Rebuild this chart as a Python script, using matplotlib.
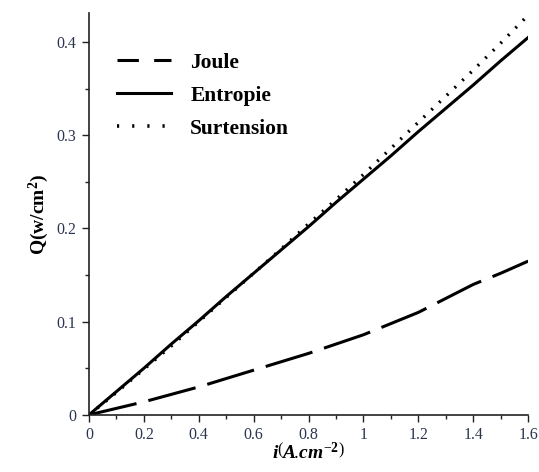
import numpy as np
import matplotlib
matplotlib.use("Agg")
import matplotlib.pyplot as plt
from matplotlib.lines import Line2D
from matplotlib.ticker import MultipleLocator, FormatStrFormatter

# ---------------------------------------------------------------------------
# Data
# ---------------------------------------------------------------------------

current    = [0.0, 0.1, 0.2, 0.3, 0.4, 0.5, 0.6, 0.7, 0.8, 0.9, 1.0, 1.1, 1.2, 1.3, 1.4, 1.5, 1.6]
joule      = [0.0, 0.007, 0.014, 0.022, 0.030, 0.039, 0.048, 0.057, 0.066, 0.076, 0.086,
              0.098, 0.110, 0.125, 0.140, 0.152, 0.165]
entropie   = [0.0, 0.025, 0.050, 0.076, 0.101, 0.127, 0.152, 0.177, 0.202, 0.228, 0.253,
              0.278, 0.304, 0.329, 0.354, 0.380, 0.405]
surtension = [0.0, 0.024, 0.049, 0.074, 0.100, 0.126, 0.152, 0.178, 0.205, 0.231, 0.258,
              0.286, 0.314, 0.342, 0.370, 0.399, 0.429]

x_ticks = [0, 0.2, 0.4, 0.6, 0.8, 1.0, 1.2, 1.4, 1.6]
y_ticks = [0, 0.1, 0.2, 0.3, 0.4]
labels  = ["Joule", "Entropie", "Surtension"]

# ---------------------------------------------------------------------------
# Plot
# ---------------------------------------------------------------------------

plt.rcParams["font.family"] = ["Liberation Serif", "DejaVu Serif"]
plt.rcParams["mathtext.fontset"] = "custom"
plt.rcParams["mathtext.rm"] = "Liberation Serif"
plt.rcParams["mathtext.it"] = "Liberation Serif:italic:bold"
plt.rcParams["mathtext.bf"] = "Liberation Serif:bold"

fig = plt.figure(figsize=(5.39, 4.72), dpi=100)
ax = fig.add_axes([0.165, 0.121, 0.815, 0.851])

ax.plot(current, joule, color="black", lw=2.2, dashes=(16, 4))
ax.plot(current, entropie, color="black", lw=2.2)
ax.plot(current, surtension, color="black", lw=2.4, dashes=(0.6, 2.6))

ax.set_xlim(0, 1.6)
ax.set_ylim(0, 0.431)
ax.set_xticks(x_ticks)
ax.set_yticks(y_ticks)
ax.xaxis.set_minor_locator(MultipleLocator(0.1))
ax.yaxis.set_minor_locator(MultipleLocator(0.05))
ax.xaxis.set_major_formatter(FormatStrFormatter("%g"))
ax.yaxis.set_major_formatter(FormatStrFormatter("%g"))

for side in ["top", "right"]:
    ax.spines[side].set_visible(False)
for side in ["left", "bottom"]:
    ax.spines[side].set_linewidth(1.2)
    ax.spines[side].set_color("#222222")

ax.tick_params(which="major", direction="out", length=5, width=1.0, labelsize=11.5,
               colors="#222222", pad=4)
ax.tick_params(which="minor", direction="out", length=3, width=1.0, colors="#222222")
for lbl in ax.get_xticklabels() + ax.get_yticklabels():
    lbl.set_color("#2b3550")

ax.set_ylabel(r"Q(w/cm$^{\mathbf{2}}$)", fontsize=14, fontweight="bold", labelpad=4)
ax.set_xlabel(r"$i\left(\mathit{A\!.\!cm}^{-\mathbf{2}}\right)$", fontsize=14, labelpad=-1)

# legend handles drawn with their own dash patterns
handles = [
    Line2D([], [], color="black", lw=2.2, dashes=(7, 5)),
    Line2D([], [], color="black", lw=2.2),
    Line2D([], [], color="black", lw=2.6, dashes=(0.6, 3.6)),
]
ax.legend(handles, labels, loc="upper left", bbox_to_anchor=(0.02, 0.95), frameon=False,
          prop={"weight": "bold", "size": 15.5}, handlelength=2.5,
          labelspacing=0.6, handletextpad=0.9)

plt.savefig("out.png", dpi=100)
